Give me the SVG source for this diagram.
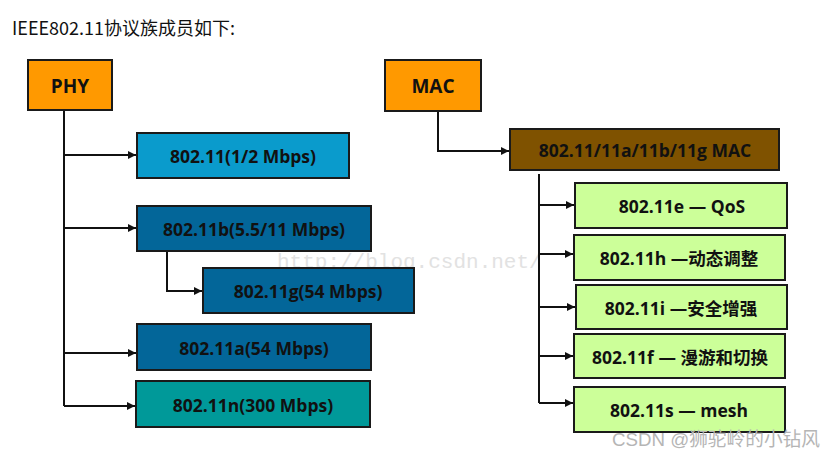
<svg xmlns="http://www.w3.org/2000/svg" width="839" height="457" viewBox="0 0 839 457">
<style>
.box{stroke:#1a1a1a;stroke-width:2}
.lbl{font-family:"Open Sans","Liberation Sans","Noto Sans CJK SC",sans-serif;font-weight:bold;font-size:17.5px;fill:#111;text-anchor:middle;dominant-baseline:central}
.big{font-size:19px}
.cn{font-family:"Open Sans","Noto Sans CJK SC",sans-serif}
.ln{fill:none;stroke:#111;stroke-width:2}
</style>
<defs>
<marker id="ah" markerWidth="8" markerHeight="8" refX="8" refY="4" orient="auto" markerUnits="userSpaceOnUse">
<path d="M0,0 L8,4 L0,8 z" fill="#111"/>
</marker>
</defs>
<rect width="839" height="457" fill="#fff"/>
<text x="12" y="35" font-family="'Noto Sans CJK SC',sans-serif" font-size="18" fill="#111">IEEE802.11协议族成员如下:</text>
<text x="277" y="268" font-family="'Liberation Mono',monospace" font-size="21" fill="#e2e2e2">http://blog.csdn.net/</text>

<g id="connectors">
<path class="ln" d="M64,110 V406"/>
<path class="ln" d="M64,155 H136" marker-end="url(#ah)"/>
<path class="ln" d="M64,228 H136" marker-end="url(#ah)"/>
<path class="ln" d="M167,251 V291 H202" marker-end="url(#ah)"/>
<path class="ln" d="M64,353 H136" marker-end="url(#ah)"/>
<path class="ln" d="M64,406 H135" marker-end="url(#ah)"/>
<path class="ln" d="M438,111 V151 H509" marker-end="url(#ah)"/>
<path class="ln" d="M539,174 V403"/>
<path class="ln" d="M539,205 H574" marker-end="url(#ah)"/>
<path class="ln" d="M539,254 H573" marker-end="url(#ah)"/>
<path class="ln" d="M539,307 H575" marker-end="url(#ah)"/>
<path class="ln" d="M539,356 H573" marker-end="url(#ah)"/>
<path class="ln" d="M539,403 H573" marker-end="url(#ah)"/>
</g>

<g id="phy"><rect class="box" x="28" y="60" width="84" height="50" fill="#FF9900"/><text class="lbl big" x="70" y="86">PHY</text></g>
<g id="n80211"><rect class="box" x="137" y="133" width="212" height="45" fill="#0A9BCC"/><text class="lbl" x="243" y="156">802.11(1/2 Mbps)</text></g>
<g id="n80211b"><rect class="box" x="137" y="206" width="234" height="45" fill="#036699"/><text class="lbl" x="254" y="229">802.11b(5.5/11 Mbps)</text></g>
<g id="n80211g"><rect class="box" x="203" y="268" width="211" height="45" fill="#036699"/><text class="lbl" x="308" y="291">802.11g(54 Mbps)</text></g>
<g id="n80211a"><rect class="box" x="137" y="324" width="234" height="46" fill="#036699"/><text class="lbl" x="254" y="348">802.11a(54 Mbps)</text></g>
<g id="n80211n"><rect class="box" x="136" y="381" width="234" height="46" fill="#009999"/><text class="lbl" x="253" y="405">802.11n(300 Mbps)</text></g>

<g id="mac"><rect class="box" x="385" y="60" width="96" height="51" fill="#FF9900"/><text class="lbl big" x="433" y="86">MAC</text></g>
<g id="macmain"><rect class="box" x="510" y="129" width="269" height="41" fill="#7F5200"/><text class="lbl" x="645" y="150">802.11/11a/11b/11g MAC</text></g>
<g id="n80211e"><rect class="box" x="575" y="183" width="212" height="45" fill="#CCFF99"/><text class="lbl" x="682" y="206">802.11e — QoS</text></g>
<g id="n80211h"><rect class="box" x="574" y="235" width="211" height="45" fill="#CCFF99"/><text class="lbl cn" x="679" y="258">802.11h —动态调整</text></g>
<g id="n80211i"><rect class="box" x="576" y="285" width="211" height="44" fill="#CCFF99"/><text class="lbl cn" x="681" y="308">802.11i —安全增强</text></g>
<g id="n80211f"><rect class="box" x="574" y="334" width="211" height="44" fill="#CCFF99"/><text class="lbl cn" x="680" y="357">802.11f — 漫游和切换</text></g>
<g id="n80211s"><rect class="box" x="574" y="387" width="211" height="45" fill="#CCFF99"/><text class="lbl" x="679" y="410">802.11s — mesh</text></g>

<text x="612" y="446" font-family="'Liberation Sans','Noto Sans CJK SC',sans-serif" font-size="19" textLength="208" lengthAdjust="spacingAndGlyphs" fill="#b5b5b5">CSDN @狮驼岭的小钻风</text>
</svg>
